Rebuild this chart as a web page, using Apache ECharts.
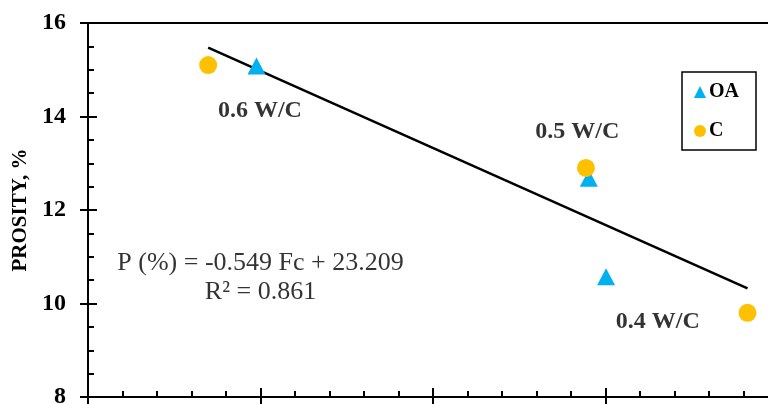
<!DOCTYPE html>
<html>
<head>
<meta charset="utf-8">
<script src="https://cdn.jsdelivr.net/npm/echarts@6/dist/echarts.min.js"></script>
<style>
  html, body { margin: 0; padding: 0; background: #fff; }
  #chart { width: 768px; height: 404px; }
</style>
</head>
<body>
<div id="chart"></div>
<script>
// Compressive strength Fc (x) vs porosity P (y) for two mix types
const oaFc = [14.93, 20.71, 21.01];
const oaP = [15.08, 12.68, 10.57];
const cFc = [14.09, 20.66, 23.47];
const cP = [15.10, 12.90, 9.80];

// Linear fit reported on the chart
const slope = -0.549;
const intercept = 23.209;
const r2 = 0.861;

// W/C ratio labels, placed in data coordinates
const wcLabels = ['0.6 W/C', '0.5 W/C', '0.4 W/C'];
const wcLabelX = [14.99, 20.51, 21.91];
const wcLabelY = [14.12, 13.67, 9.60];

// Equation annotation position (data coordinates)
const eqX = 15.0;
const eqY = 10.55;

const serif = '"Liberation Serif", "Times New Roman", serif';

const allFc = oaFc.concat(cFc);
const fitX = [Math.min(...allFc), Math.max(...allFc)];
const fitLine = fitX.map(x => [x, slope * x + intercept]);

const zip = (xs, ys) => xs.map((x, i) => [x, ys[i]]);

const chart = echarts.init(document.getElementById('chart'), null, { renderer: 'canvas' });

const axisLine = { show: true, lineStyle: { color: '#000', width: 2 } };

chart.setOption({
  animation: false,
  backgroundColor: '#fff',
  grid: {
    left: 88, top: 23, right: -10, bottom: 7,
    containLabel: false, outerBoundsMode: 'none',
    show: true, borderColor: '#000', borderWidth: 2, backgroundColor: 'transparent'
  },
  xAxis: [
    {
      type: 'value', min: 12, max: 24, interval: 3, position: 'bottom',
      axisLine: axisLine,
      axisTick: { show: true, inside: false, length: 8, lineStyle: { color: '#000', width: 2 } },
      minorTick: { show: false },
      splitLine: { show: false },
      axisLabel: { show: true, color: '#000', fontFamily: serif, fontWeight: 'bold', fontSize: 24, margin: 14 }
    },
    {
      type: 'value', min: 12, max: 24, interval: 3, position: 'bottom', offset: 0,
      axisLine: axisLine,
      axisTick: { show: true, inside: true, length: 9, lineStyle: { color: '#000', width: 2 } },
      minorTick: { show: true, splitNumber: 5, length: 6, lineStyle: { color: '#000', width: 2 } },
      splitLine: { show: false },
      axisLabel: { show: false }
    }
  ],
  yAxis: [
    {
      type: 'value', min: 8, max: 16, interval: 2, position: 'left',
      name: 'PROSITY, %', nameLocation: 'middle', nameGap: 56, nameRotate: 90,
      nameTextStyle: { color: '#000', fontFamily: serif, fontWeight: 'bold', fontSize: 21 },
      axisLine: axisLine,
      axisTick: { show: true, inside: false, length: 8, lineStyle: { color: '#000', width: 2 } },
      minorTick: { show: false },
      splitLine: { show: false },
      axisLabel: { show: true, color: '#000', fontFamily: serif, fontWeight: 'bold', fontSize: 24, margin: 22 }
    },
    {
      type: 'value', min: 8, max: 16, interval: 2, position: 'left', offset: 0,
      axisLine: axisLine,
      axisTick: { show: true, inside: true, length: 9, lineStyle: { color: '#000', width: 2 } },
      minorTick: { show: true, splitNumber: 4, length: 6, lineStyle: { color: '#000', width: 2 } },
      splitLine: { show: false },
      axisLabel: { show: false }
    }
  ],
  legend: {
    orient: 'vertical',
    left: 682, top: 72,
    padding: [10, 17, 9, 12],
    itemGap: 19,
    itemWidth: 12, itemHeight: 12,
    borderColor: '#000', borderWidth: 1.5,
    backgroundColor: '#fff',
    textStyle: { color: '#000', fontFamily: serif, fontWeight: 'bold', fontSize: 20, padding: [0, 0, 0, -2] },
    data: [
      { name: 'OA', icon: 'triangle' },
      { name: 'C', icon: 'circle' }
    ]
  },
  series: [
    {
      name: 'Fit', type: 'line', data: fitLine,
      symbol: 'none', silent: true,
      lineStyle: { color: '#000', width: 2.5 },
      z: 1
    },
    {
      name: 'C', type: 'scatter', data: zip(cFc, cP),
      symbol: 'circle', symbolSize: 18,
      itemStyle: { color: '#FFC000', opacity: 1 },
      z: 3
    },
    {
      name: 'OA', type: 'scatter', data: zip(oaFc, oaP),
      symbol: 'triangle', symbolSize: [18, 17],
      itemStyle: { color: '#00B0F0', opacity: 1 },
      z: 2
    },
    {
      name: 'W/C', type: 'scatter',
      data: wcLabels.map((t, i) => ({ value: [wcLabelX[i], wcLabelY[i]], name: t })),
      symbolSize: 0, silent: true,
      label: {
        show: true, position: 'inside', formatter: p => p.name,
        color: '#000', textBorderWidth: 0, fontFamily: serif, fontWeight: 'bold', fontSize: 24
      },
      z: 4
    },
    {
      name: 'Equation', type: 'scatter',
      data: [{ value: [eqX, eqY] }],
      symbolSize: 0, silent: true,
      label: {
        show: true, position: 'inside', align: 'center',
        formatter: 'P (%) = ' + slope.toFixed(3) + ' Fc + ' + intercept.toFixed(3) + '\nR² = ' + r2.toFixed(3),
        color: '#000', textBorderWidth: 0, fontFamily: serif, fontSize: 26, lineHeight: 29
      },
      z: 4
    }
  ]
});
</script>
</body>
</html>
